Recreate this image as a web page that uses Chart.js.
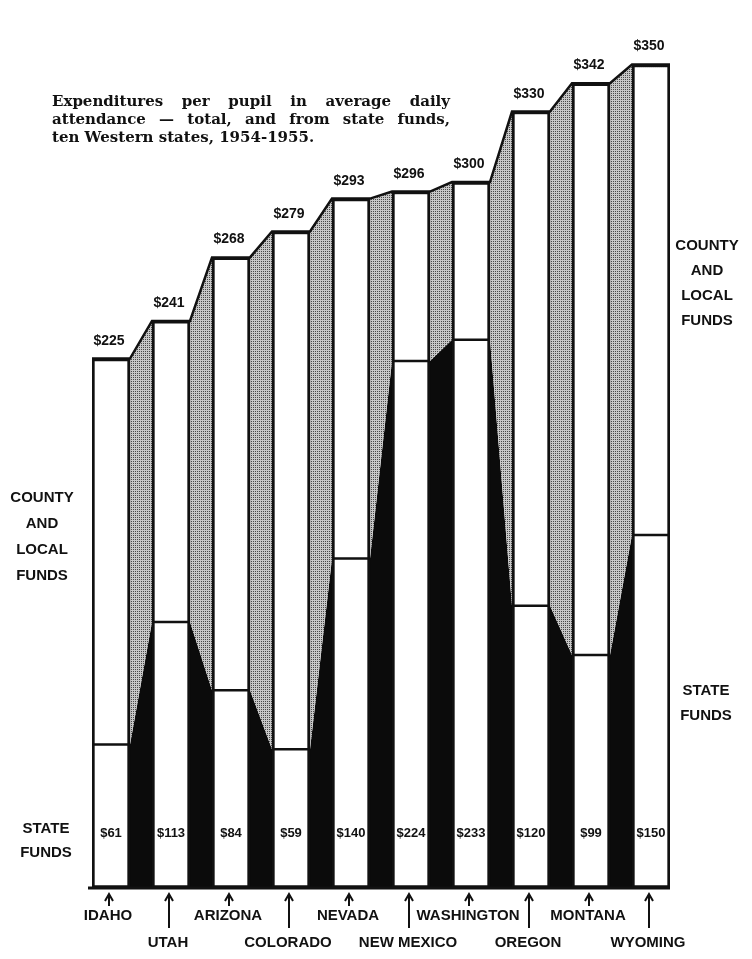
<!DOCTYPE html>
<html>
<head>
<meta charset="utf-8">
<script src="https://cdn.jsdelivr.net/npm/chart.js@4"></script>
<style>
  html, body { margin: 0; padding: 0; background: #fff; }
  #wrap { position: relative; width: 752px; height: 959px; }
  #title { position: absolute; left: 52px; top: 92px; width: 398px; font: bold 15px "DejaVu Serif", serif; line-height: 18px; color: #111; }
  #title div { text-align: justify; text-align-last: justify; white-space: nowrap; }
  #title div.last { text-align-last: left; }
  .note { position: absolute; width: 80px; font: bold 15px "Liberation Sans", Arial, sans-serif; color: #111; text-align: center; }
</style>
</head>
<body>
<div id="wrap">
  <canvas id="chart"></canvas>
  <div id="title">
    <div>Expenditures per pupil in average daily</div>
    <div>attendance — total, and from state funds,</div>
    <div class="last">ten Western states, 1954-1955.</div>
  </div>
  <div class="note" style="left:2px; top:484px; line-height:26px;">COUNTY<br>AND<br>LOCAL<br>FUNDS</div>
  <div class="note" style="left:6px; top:816px; line-height:24px;">STATE<br>FUNDS</div>
  <div class="note" style="left:667px; top:232px; line-height:25px;">COUNTY<br>AND<br>LOCAL<br>FUNDS</div>
  <div class="note" style="left:666px; top:677px; line-height:25px;">STATE<br>FUNDS</div>
</div>
<script>
const states = ['IDAHO', 'UTAH', 'ARIZONA', 'COLORADO', 'NEVADA', 'NEW MEXICO', 'WASHINGTON', 'OREGON', 'MONTANA', 'WYOMING'];
const totals = [225, 241, 268, 279, 293, 296, 300, 330, 342, 350];
const stateFunds = [61, 113, 84, 59, 140, 224, 233, 120, 99, 150];
const nameRow = [0, 1, 0, 1, 0, 1, 0, 1, 0, 1];

// bar is 38px out of a 60px step; the rest is the slanted connector
const BAR_W = 38 / 60;
const Y_MAX = 357;

const canvas = document.getElementById('chart');

// stippled grey for the county / local connectors
const tile = document.createElement('canvas');
tile.width = 2; tile.height = 2;
const tctx = tile.getContext('2d');
tctx.fillStyle = '#c8c8c8';
tctx.fillRect(0, 0, 2, 2);
tctx.fillStyle = '#4a4a4a';
tctx.fillRect(1, 1, 1, 1);
const stipple = canvas.getContext('2d').createPattern(tile, 'repeat');

function stepPoints(values) {
  const pts = [];
  values.forEach((v, i) => {
    pts.push({ x: i, y: v });
    pts.push({ x: i + BAR_W, y: v });
  });
  return pts;
}

function dividerPoints(values) {
  const pts = [];
  values.forEach((v, i) => {
    pts.push({ x: i, y: v });
    pts.push({ x: i + BAR_W, y: v });
    pts.push({ x: i + BAR_W + 0.01, y: null });
  });
  return pts;
}

const labelsPlugin = {
  id: 'labels',
  afterDatasetsDraw(chart) {
    const { ctx, scales: { x, y } } = chart;
    const base = y.getPixelForValue(0);
    ctx.save();
    ctx.strokeStyle = '#111';
    ctx.fillStyle = '#111';
    ctx.lineWidth = 3;
    ctx.beginPath();
    ctx.moveTo(x.getPixelForValue(0) - 4, base);
    ctx.lineTo(x.getPixelForValue(states.length - 1 + BAR_W), base);
    ctx.stroke();

    ctx.textAlign = 'center';
    ctx.textBaseline = 'alphabetic';
    states.forEach((name, i) => {
      const cx = x.getPixelForValue(i + BAR_W / 2);
      ctx.font = 'bold 14px "Liberation Sans", Arial, sans-serif';
      ctx.fillText('$' + totals[i], cx - 2, y.getPixelForValue(totals[i]) - 14);
      ctx.font = 'bold 13px "Liberation Sans", Arial, sans-serif';
      ctx.fillText('$' + stateFunds[i], cx, base - 51);

      // arrow pointing up at the bar
      const ax = cx - 2;
      const tail = nameRow[i] ? base + 40 : base + 18;
      ctx.lineWidth = 2;
      ctx.beginPath();
      ctx.moveTo(ax, base + 6);
      ctx.lineTo(ax, tail);
      ctx.moveTo(ax - 4, base + 13);
      ctx.lineTo(ax, base + 6);
      ctx.lineTo(ax + 4, base + 13);
      ctx.stroke();

      ctx.font = 'bold 15px "Liberation Sans", Arial, sans-serif';
      ctx.fillText(name, cx - 3, nameRow[i] ? base + 59 : base + 32);
    });
    ctx.restore();
  }
};

new Chart(canvas, {
  type: 'bar',
  data: {
    datasets: [
      {
        type: 'line',
        label: 'State funds',
        data: stepPoints(stateFunds),
        fill: 'origin',
        backgroundColor: '#0b0b0b',
        borderWidth: 0,
        pointRadius: 0,
        tension: 0,
        order: 4
      },
      {
        type: 'line',
        label: 'County and local funds',
        data: stepPoints(totals),
        fill: '-1',
        backgroundColor: stipple,
        borderColor: '#111',
        borderWidth: 2.5,
        pointRadius: 0,
        tension: 0,
        order: 3
      },
      {
        type: 'bar',
        label: 'Total',
        data: totals.map((t, i) => ({ x: i + BAR_W / 2, y: t })),
        backgroundColor: '#fff',
        borderColor: '#111',
        borderWidth: 3,
        borderSkipped: false,
        barThickness: 38,
        order: 2
      },
      {
        type: 'line',
        label: 'State share',
        data: dividerPoints(stateFunds),
        borderColor: '#111',
        borderWidth: 2.5,
        pointRadius: 0,
        fill: false,
        spanGaps: false,
        order: 1
      }
    ]
  },
  options: {
    responsive: true,
    maintainAspectRatio: false,
    animation: false,
    layout: { padding: { left: 92, right: 82, top: 48, bottom: 71 } },
    plugins: {
      legend: { display: false },
      tooltip: { enabled: false }
    },
    scales: {
      x: { type: 'linear', display: false, offset: false, min: 0, max: states.length - 1 + BAR_W },
      y: { display: false, min: 0, max: Y_MAX }
    }
  },
  plugins: [labelsPlugin]
});
</script>
</body>
</html>
